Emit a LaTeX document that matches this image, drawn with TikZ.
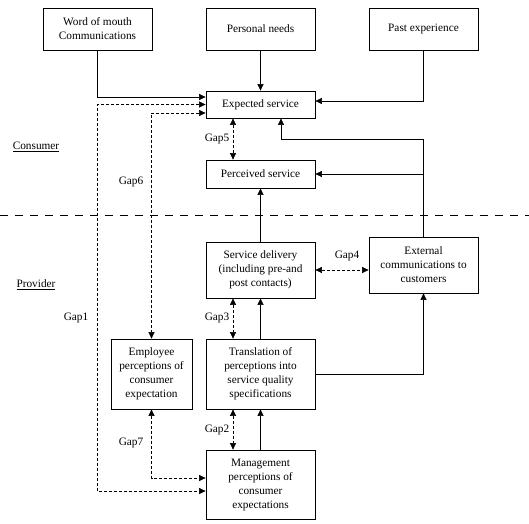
\documentclass[tikz,border=0pt]{standalone}
\usepackage{fontspec}
\setmainfont{Liberation Serif}
\usetikzlibrary{arrows.meta, calc}

\tikzset{
  box/.style = {draw, line width=0.8pt, align=center, minimum width=109pt,
                inner sep=1pt, font=\fontsize{11.3}{14}\selectfont},
  arr/.style = {line width=0.6pt, -{Triangle[length=6.5pt, width=6pt]}},
  gaparr/.style = {line width=0.6pt, dash pattern=on 3pt off 2pt,
                   {Triangle[length=6.5pt, width=6pt]}-{Triangle[length=6.5pt, width=6pt]}},
  gaplabel/.style = {font=\fontsize{11.3}{13}\selectfont, inner sep=0pt}
}

\begin{document}
\begin{tikzpicture}[x=1pt, y=-1pt]
  \useasboundingbox (0,0) rectangle (529,523);

  % consumer side
  \node[box, minimum height=42pt] (wom)   at (97.5, 29)  {Word of mouth\\Communications};
  \node[box, minimum height=42pt] (needs) at (260.5, 29) {Personal needs};
  \node[box, minimum height=42pt] (past)  at (423.5, 29) {Past experience};
  \node[box, minimum height=27pt] (expected)  at (260.5, 104.5) {Expected service};
  \node[box, minimum height=28pt] (perceived) at (260.5, 174)   {Perceived service};

  % provider side
  \node[box, minimum height=56pt] (delivery) at (260.5, 270)
       {Service delivery\\(including pre-and\\post contacts)};
  \node[box, minimum height=56pt] (external) at (423.5, 265)
       {External\\communications to\\customers};
  \node[box, minimum height=70pt, minimum width=81pt] (employee) at (151.5, 374)
       {Employee\\perceptions of\\consumer\\expectation};
  \node[box, minimum height=70pt] (translation) at (260.5, 374)
       {Translation of\\perceptions into\\service quality\\specifications};
  \node[box, minimum height=69pt] (management) at (260.5, 484.5)
       {Management\\perceptions of\\consumer\\expectations};

  \node[gaplabel] (consumer) at (36, 147) {\underline{Consumer}};
  \node[gaplabel] (provider) at (36, 285) {\underline{Provider}};

  \draw[dash pattern=on 8pt off 7pt, line width=0.7pt] (0,215) -- (529,215);

  % solid links
  \draw[arr] (wom.south) |- ($(expected.west)+(0,-7.5)$);
  \draw[arr] (needs) -- (expected);
  \draw[arr] (past.south) |- ($(expected.east)+(0,-3.5)$);
  \draw[arr] (external.north) |- ($(expected.south)+(20.5,21)$) -- ($(expected.south)+(20.5,0)$);
  \draw[arr] (external.north |- perceived.east) -- (perceived.east);
  \draw[arr] (delivery) -- (perceived);
  \draw[arr] (translation) -- (delivery);
  \draw[arr] (management) -- (translation);
  \draw[arr] (translation.east) -| (external.south);

  % gaps
  \coordinate (g1) at ($(management.west)+(0,6.5)$);
  \draw[gaparr] (expected.west) -| (wom.south |- g1) -- (g1);
  \draw[gaparr] ($(expected.west)+(0,8.5)$) -| (employee.north);
  \draw[gaparr] (employee.south) |- ($(management.west)+(0,-6.5)$);
  \draw[gaparr] ($(expected.south)+(-27.5,0)$) -- ($(perceived.north)+(-27.5,0)$);
  \draw[gaparr] ($(delivery.south)+(-27.5,0)$) -- ($(translation.north)+(-27.5,0)$);
  \draw[gaparr] ($(translation.south)+(-27.5,0)$) -- ($(management.north)+(-27.5,0)$);
  \draw[gaparr] (delivery.east) -- (delivery.east -| external.west);

  \node[gaplabel] (gap1) at (76, 318) {Gap1};
  \node[gaplabel] (gap2) at (217, 430) {Gap2};
  \node[gaplabel] (gap3) at (217, 318) {Gap3};
  \node[gaplabel] (gap4) at (347, 256) {Gap4};
  \node[gaplabel] (gap5) at (217, 139) {Gap5};
  \node[gaplabel] (gap6) at (131, 182) {Gap6};
  \node[gaplabel] (gap7) at (131, 443) {Gap7};
\end{tikzpicture}
\end{document}
